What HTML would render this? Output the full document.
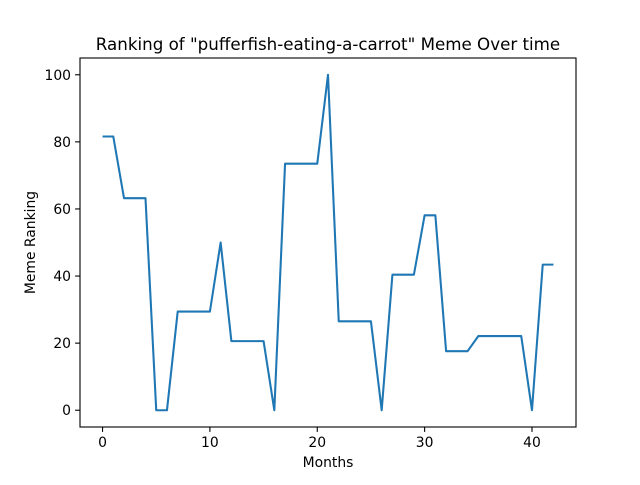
<!DOCTYPE html>
<html><head><meta charset="utf-8"><style>
body{margin:0;background:#fff;}
svg text{font-family:"DejaVu Sans","Liberation Sans",sans-serif;fill:#000;}
</style></head><body>
<svg id="chart" width="640" height="480" xmlns="http://www.w3.org/2000/svg">
<rect width="640" height="480" fill="#fff"/>
<text x="328" y="50" font-size="16.7" text-anchor="middle">Ranking of "pufferfish-eating-a-carrot" Meme Over time</text>
<g id="xticks"></g><g id="yticks"></g>
<path id="line" fill="none" stroke="#1f77b4" stroke-width="2.08" stroke-linejoin="round"/>
<rect x="80" y="58" width="496" height="369" fill="none" stroke="#000" stroke-width="1.1"/>
<text x="328" y="467" font-size="13.9" text-anchor="middle">Months</text>
<text transform="translate(35,242.5) rotate(-90)" font-size="13.9" text-anchor="middle">Meme Ranking</text>
</svg>
<script>
const months=[0,1,2,3,4,5,6,7,8,9,10,11,12,13,14,15,16,17,18,19,20,21,22,23,24,25,26,27,28,29,30,31,32,33,34,35,36,37,38,39,40,41,42];
const ranking=[81.6,81.6,63.2,63.2,63.2,0,0,29.4,29.4,29.4,29.4,50,20.6,20.6,20.6,20.6,0,73.5,73.5,73.5,73.5,100,26.5,26.5,26.5,26.5,0,40.4,40.4,40.4,58.1,58.1,17.6,17.6,17.6,22.1,22.1,22.1,22.1,22.1,0,43.4,43.4];
const xTicks=[0,10,20,30,40];
const yTicks=[0,20,40,60,80,100];
const ns="http://www.w3.org/2000/svg";
const xmin=-2.1,xmax=44.1,ymin=-5,ymax=105;
const X=v=>80+(v-xmin)/(xmax-xmin)*496;
const Y=v=>427-(v-ymin)/(ymax-ymin)*369;
document.getElementById('line').setAttribute('d',months.map((m,i)=>(i?'L':'M')+X(m).toFixed(2)+','+Y(ranking[i]).toFixed(2)).join(''));
const xg=document.getElementById('xticks');
xTicks.forEach(t=>{
  const l=document.createElementNS(ns,'line');
  
  
  l.setAttribute('x1',X(t));l.setAttribute('x2',X(t));l.setAttribute('y1',427);l.setAttribute('y2',431.9);l.setAttribute('stroke','#000');l.setAttribute('stroke-width','1.1');
  xg.appendChild(l);
  const tx=document.createElementNS(ns,'text');
  
  
  tx.setAttribute('x',X(t));tx.setAttribute('y',447);tx.setAttribute('font-size','13.9');tx.setAttribute('text-anchor','middle');
  tx.textContent=t;xg.appendChild(tx);
});
const yg=document.getElementById('yticks');
yTicks.forEach(t=>{
  const l=document.createElementNS(ns,'line');
  
  
  l.setAttribute('x1',75.1);l.setAttribute('x2',80);l.setAttribute('y1',Y(t));l.setAttribute('y2',Y(t));l.setAttribute('stroke','#000');l.setAttribute('stroke-width','1.1');
  yg.appendChild(l);
  const tx=document.createElementNS(ns,'text');
  
  
  tx.setAttribute('x',71);tx.setAttribute('y',Y(t)+5);tx.setAttribute('font-size','13.9');tx.setAttribute('text-anchor','end');
  tx.textContent=t;yg.appendChild(tx);
});
</script>
</body></html>
